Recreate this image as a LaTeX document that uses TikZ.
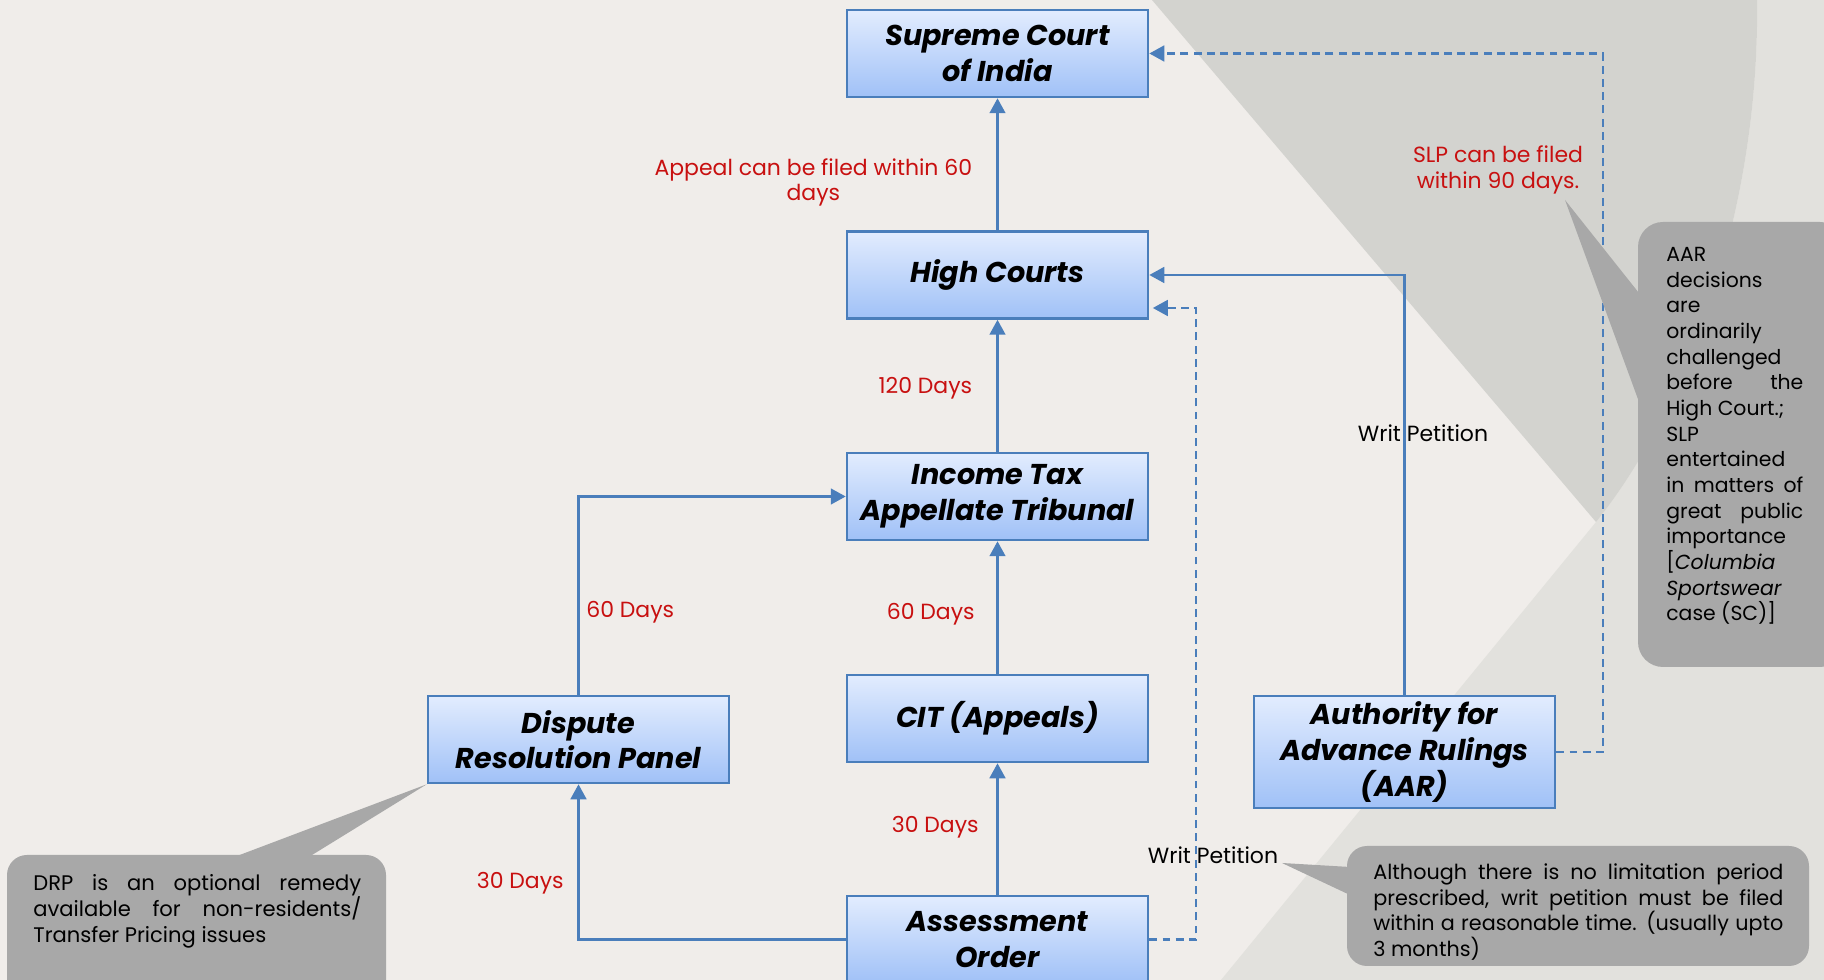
\documentclass[tikz,border=0pt]{standalone}
\usepackage{fontspec}
\setmainfont{Poppins}
\usetikzlibrary{arrows.meta,positioning}
\setlength{\parindent}{0pt}

\definecolor{pagebg}{RGB}{240,237,234}
\definecolor{wedgedark}{RGB}{211,211,207}
\definecolor{wedgelight}{RGB}{226,225,221}
\definecolor{linkblue}{RGB}{74,126,187}
\definecolor{boxtop}{RGB}{226,236,254}
\definecolor{boxbot}{RGB}{160,193,247}
\definecolor{daysred}{RGB}{200,16,16}
\definecolor{notegray}{RGB}{168,168,168}

\begin{document}
\begin{tikzpicture}[
  court/.style={draw=linkblue, line width=1.5pt, top color=boxtop, bottom color=boxbot,
    minimum width=6.02cm, minimum height=1.74cm, align=center, inner sep=1pt,
    font=\fontsize{16.3}{20.3}\selectfont\bfseries\itshape},
  link/.style={linkblue, line width=1.2pt, -{Triangle[length=8.5pt,width=9pt]}},
  dashlink/.style={link, dash pattern=on 4.5pt off 3pt},
  days/.style={text=daysred, font=\fontsize{12.5}{14.6}\selectfont, inner sep=0pt},
  notetext/.style={font=\fontsize{12}{14.6}\selectfont, inner sep=0pt, align=justify}
]
% Page and background wedges
\useasboundingbox (0,0) rectangle (36.48,19.6);
\fill[pagebg] (0,0) rectangle (36.48,19.6);
\fill[wedgelight] (35.14,19.6) .. controls (35.2,15.5) and (33.8,11.5) .. (31.92,9.16)
  -- (24.42,0) -- (36.48,0) -- (36.48,19.6) -- cycle;
\fill[wedgedark] (23.04,19.6) -- (31.92,9.16) .. controls (33.8,11.5) and (35.2,15.5) .. (35.14,19.6) -- cycle;

% Courts and authorities
\node[court] (sc) at (19.95,18.53) {Supreme Court\\of India};
\node[court] (hc) at (19.95,14.10) {High Courts};
\node[court] (itat) at (19.95,9.67) {Income Tax\\Appellate Tribunal};
\node[court] (cit) at (19.95,5.23) {CIT (Appeals)};
\node[court] (ao) at (19.95,0.81) {Assessment\\Order};
\node[court] (drp) at (11.57,4.81) {Dispute\\Resolution Panel};
\node[court, minimum height=2.24cm] (aar) at (28.09,4.56) {Authority for\\Advance Rulings\\(AAR)};

% Appeal route
\foreach \from/\to in {ao/cit, cit/itat, itat/hc, hc/sc}
  \draw[link] (\from) -- (\to);
\draw[link] (ao.west) -| (drp.south);
\draw[link] (drp.north) |- (itat.west);
\draw[link] (aar.north) |- (hc.east);

% Writ and SLP routes
\coordinate (slpturn) at (32.06,18.53);
\coordinate (wpturn) at (23.92,13.44);
\draw[dashlink] (aar.east) -| (slpturn) -- (sc.east);
\draw[dashlink, shorten >=2pt] (ao.east) -| (wpturn) -- (wpturn -| hc.east);

% Time limits
\node[days, anchor=east] (t1) at (19.58,3.06) {30 Days};
\node[days, anchor=east] (t2) at (19.50,7.32) {60 Days};
\node[days, anchor=east] (t3) at (19.45,11.84) {120 Days};
\node[days, anchor=east, align=center] (t4) at (19.45,15.95) {Appeal can be filed within 60\\days};
\node[days, anchor=east] (t5) at (11.28,1.94) {30 Days};
\node[days, anchor=west] (t6) at (11.72,7.36) {60 Days};
\node[days, align=center] (t7) at (29.96,16.2) {SLP can be filed\\within 90 days.};
\node[days, text=black] (wp1) at (28.46,10.94) {Writ Petition};
\node[days, text=black] (wp2) at (24.26,2.50) {Writ Petition};

% Callouts
\fill[notegray, rounded corners=0.4cm] (0.14,-0.6) rectangle (7.72,2.5);
\fill[notegray] (4.66,2.45) -- (drp.south west) -- (6.16,2.45) -- cycle;
\node[notetext, text width=6.56cm, anchor=north west] (drpnote) at (0.66,2.11)
  {DRP is an optional remedy\linebreak available for non-residents/\linebreak Transfer Pricing issues};

\fill[notegray, rounded corners=0.5cm] (32.76,6.26) rectangle (36.9,15.16);
\fill[notegray] (32.81,13.7) -- (31.30,15.6) -- (32.81,11.48) -- cycle;
\node[notetext, text width=2.74cm, anchor=north west, font=\fontsize{11.6}{14.6}\selectfont] (aarnote) at (33.32,14.66)
  {AAR\\decisions\\are\\ordinarily\\challenged\\before the\linebreak High Court.;\\SLP\\entertained\\in matters of\linebreak
   great public\linebreak importance\\{[}\textit{Columbia}\\\textit{Sportswear}\\case (SC)]};

\fill[notegray, rounded corners=0.4cm] (26.94,0.28) rectangle (36.18,2.68);
\fill[notegray] (27.0,2.26) -- (25.64,2.34) -- (27.0,1.70) -- cycle;
\node[notetext, text width=8.2cm, anchor=north west, font=\fontsize{11.8}{14.6}\selectfont] (wpnote) at (27.46,2.33)
  {Although there is no limitation period\linebreak prescribed, writ petition must be filed\linebreak
   within a reasonable time. (usually upto\linebreak 3 months)};
\end{tikzpicture}
\end{document}
